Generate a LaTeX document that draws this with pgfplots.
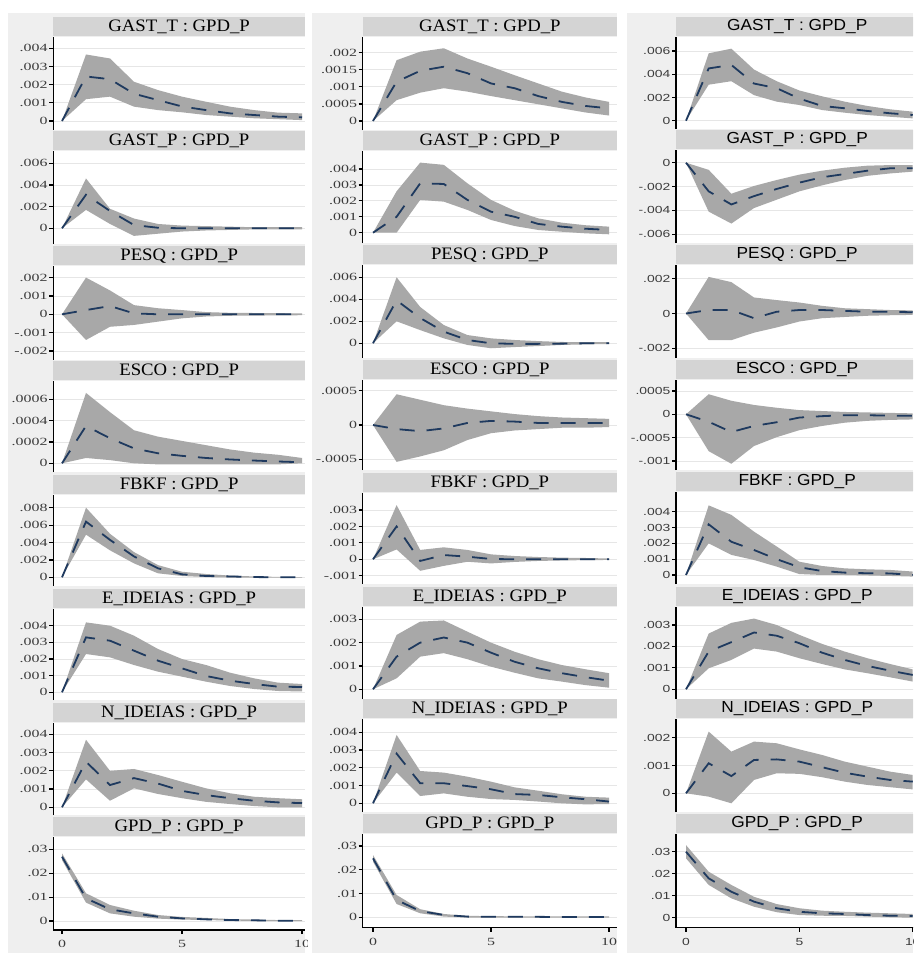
\documentclass[border=0pt]{standalone}
\usepackage{pgfplots}
\pgfplotsset{compat=1.18}
\usepackage{fontspec}
\setmainfont{Liberation Serif}
\newfontfamily\tickserif[FakeStretch=1.45]{Liberation Serif}
\newfontfamily\ticksans[FakeStretch=1.35]{Liberation Sans}
\newfontfamily\titleserif[FakeStretch=1.07]{Liberation Serif}
\newfontfamily\titlesans[FakeStretch=1.08]{Liberation Sans}
\definecolor{colbg}{HTML}{EFEFEF}
\definecolor{stripcol}{HTML}{D4D4D4}
\definecolor{bandcol}{HTML}{A8A8A8}
\definecolor{gridcol}{HTML}{E6E6E6}
\definecolor{irfcol}{HTML}{1F3A5F}
\definecolor{tickcol}{HTML}{3A3A3A}
\pgfplotsset{
 every axis title/.style={at={(0.5,1)}, anchor=south, yshift=0.5pt, fill=stripcol, inner sep=0pt, minimum height=19pt, text=black},
 panel/.style={scale only axis, anchor=north west, axis background/.style={fill=white},
  axis y line*=left, axis line style={-, line width=1.3pt, black},
  tick align=outside, major tick length=4pt, ytick style={line width=1.2pt, black},
  ymajorgrids, grid style={line width=0.8pt, gridcol}, no markers,
  yticklabel style={text=tickcol, inner sep=1.5pt}, xticklabel style={text=tickcol, yshift=-3pt}},
 nox/.style={axis x line=none, xtick=\empty},
 col1b/.style={panel, width=251.7pt, xmin=-0.3625, xmax=10.125,
  title style={minimum width=251.7pt, font=\titleserif\fontsize{17.5}{17.5}\selectfont},
  yticklabel style={font=\tickserif\fontsize{11}{11}\selectfont},
  xticklabel style={font=\tickserif\fontsize{11}{11}\selectfont}},
 col2b/.style={panel, width=254.3pt, xmin=-0.4364, xmax=10.339,
  title style={minimum width=254.3pt, font=\titleserif\fontsize{17.5}{17.5}\selectfont},
  yticklabel style={font=\tickserif\fontsize{11}{11}\selectfont},
  xticklabel style={font=\tickserif\fontsize{11}{11}\selectfont}},
 col3b/.style={panel, width=242.4pt, xmin=-0.441, xmax=10.25,
  title style={minimum width=242.4pt, font=\titlesans\fontsize{16}{16}\selectfont},
  yticklabel style={font=\ticksans\fontsize{10.3}{10.3}\selectfont},
  xticklabel style={font=\ticksans\fontsize{10.3}{10.3}\selectfont}},
 col1/.style={col1b, nox}, col2/.style={col2b, nox}, col3/.style={col3b, nox},
 bottom/.style={axis x line*=bottom, xtick={0,5,10}, xticklabels={0,5,10}, xtick style={line width=1.2pt, black}},
 band/.style={fill=bandcol, draw=none},
 irf/.style={color=irfcol, line width=1.8pt, dash pattern=on 15pt off 12pt},
}
\newcommand{\panel}[4]{\begin{axis}[#1, title={#2}]
\addplot[band] coordinates {#3};
\addplot[irf] coordinates {#4};
\end{axis}}
\begin{document}
\begin{tikzpicture}
\useasboundingbox (0,0) rectangle (913pt,-953pt);
\fill[white] (0,0) rectangle (913pt,-953pt);
\clip (0,0) rectangle (913pt,-953pt);
\fill[colbg] (8pt,-13pt) rectangle (305pt,-953pt);
\fill[colbg] (312pt,-13pt) rectangle (617pt,-953pt);
\fill[colbg] (627pt,-13pt) rectangle (913pt,-953pt);
% ---------------- column 1
\begin{scope}
\clip (0pt,0pt) rectangle (307pt,-953pt);
\panel{col1, at={(53.3pt,-37pt)}, height=93pt, ymin=-0.000495, ymax=0.004622, ytick={0,0.001,0.002,0.003,0.004}, yticklabels={0,.001,.002,.003,.004}}{GAST\_T : GPD\_P}
{(0,0)(1,.00366)(2,.00344)(3,.00216)(4,.0017)(5,.00134)(6,.00106)(7,.00079)(8,.0006)(9,.00046)(10,.00042)(10,.00005)(9,.0001)(8,.00015)(7,.00024)(6,.00033)(5,.00048)(4,.0006)(3,.00079)(2,.00134)(1,.0012)(0,0)}
{(0,0)(1,.00245)(2,.0023)(3,.0015)(4,.00115)(5,.0008)(6,.0006)(7,.00042)(8,.00033)(9,.00024)(10,.0002)}
\panel{col1, at={(53.3pt,-151pt)}, height=93pt, ymin=-0.001449, ymax=0.007135, ytick={0,0.002,0.004,0.006}, yticklabels={0,.002,.004,.006}}{GAST\_P : GPD\_P}
{(0,0)(1,.0046)(2,.0018)(3,.0009)(4,.0004)(5,.00025)(6,.0002)(7,.00015)(8,.0001)(9,.0001)(10,.0001)(10,-.0001)(9,-.0001)(8,-.0001)(7,-.00015)(6,-.0002)(5,-.0003)(4,-.0005)(3,-.0007)(2,.0004)(1,.0017)(0,0)}
{(0,0)(1,.0031)(2,.0016)(3,.0003)(4,.00005)(5,0)(6,0)(7,0)(8,0)(9,0)(10,0)}
\panel{col1, at={(53.3pt,-266pt)}, height=94pt, ymin=-0.002491, ymax=0.002632, ytick={-0.002,-0.001,0,0.001,0.002}, yticklabels={-.002,-.001,0,.001,.002}}{PESQ : GPD\_P}
{(0,0)(1,.002)(2,.0013)(3,.0005)(4,.00033)(5,.00023)(6,.00012)(7,.00008)(8,.00007)(9,.00006)(10,.00005)(10,-.00005)(9,-.00006)(8,-.00007)(7,-.00008)(6,-.00012)(5,-.00022)(4,-.0004)(3,-.00058)(2,-.00068)(1,-.0014)(0,0)}
{(0,0)(1,.00023)(2,.00045)(3,.00005)(4,0)(5,0)(6,0)(7,0)(8,0)(9,0)(10,0)}
\panel{col1, at={(53.3pt,-381pt)}, height=91pt, ymin=-0.0000816, ymax=0.000772, ytick={0,0.0002,0.0004,0.0006}, yticklabels={0,.0002,.0004,.0006}}{ESCO : GPD\_P}
{(0,0)(1,.00066)(2,.00048)(3,.00031)(4,.00025)(5,.00021)(6,.00017)(7,.00013)(8,.0001)(9,.00008)(10,.00005)(10,0)(9,-.00001)(8,-.00001)(7,-.00001)(6,-.00001)(5,-.00001)(4,-.00001)(3,0)(2,.00003)(1,.00005)(0,0)}
{(0,0)(1,.00035)(2,.000235)(3,.00014)(4,.000094)(5,.00007)(6,.00005)(7,.000036)(8,.000026)(9,.000017)(10,.00001)}
\panel{col1, at={(53.3pt,-495pt)}, height=91pt, ymin=-0.001, ymax=0.009459, ytick={0,0.002,0.004,0.006,0.008}, yticklabels={0,.002,.004,.006,.008}}{FBKF : GPD\_P}
{(0,0)(1,.008)(2,.005)(3,.0029)(4,.0014)(5,.00064)(6,.00038)(7,.0002)(8,.0001)(9,.00005)(10,.00003)(10,-.00003)(9,-.00003)(8,-.00003)(7,-.00003)(6,.00003)(5,.00015)(4,.00046)(3,.0016)(2,.0031)(1,.0049)(0,0)}
{(0,0)(1,.0064)(2,.0043)(3,.0024)(4,.00103)(5,.00034)(6,.00015)(7,.0001)(8,.00003)(9,0)(10,0)}
\panel{col1, at={(53.3pt,-609pt)}, height=91pt, ymin=-0.000462, ymax=0.005003, ytick={0,0.001,0.002,0.003,0.004}, yticklabels={0,.001,.002,.003,.004}}{E\_IDEIAS : GPD\_P}
{(0,0)(1,.0042)(2,.004)(3,.0034)(4,.0026)(5,.002)(6,.00164)(7,.00118)(8,.00084)(9,.00058)(10,.0005)(10,.00005)(9,.00008)(8,.0002)(7,.00038)(6,.00064)(5,.00094)(4,.00124)(3,.00164)(2,.0021)(1,.0023)(0,0)}
{(0,0)(1,.0033)(2,.0031)(3,.0025)(4,.0019)(5,.00144)(6,.00098)(7,.0007)(8,.0005)(9,.00034)(10,.00032)}
\panel{col1, at={(53.3pt,-723pt)}, height=92pt, ymin=-0.000422, ymax=0.004619, ytick={0,0.001,0.002,0.003,0.004}, yticklabels={0,.001,.002,.003,.004}}{N\_IDEIAS : GPD\_P}
{(0,0)(1,.0037)(2,.002)(3,.0021)(4,.00177)(5,.0014)(6,.00104)(7,.00077)(8,.00058)(9,.0005)(10,.00044)(10,0)(9,0)(8,.00007)(7,.00018)(6,.0003)(5,.0005)(4,.00073)(3,.00104)(2,.00036)(1,.00153)(0,0)}
{(0,0)(1,.0025)(2,.00122)(3,.0016)(4,.0013)(5,.0009)(6,.00067)(7,.0005)(8,.00036)(9,.00027)(10,.00023)}
\panel{col1b, bottom, at={(53.3pt,-837pt)}, height=93pt, ymin=-0.003766, ymax=0.035146, ytick={0,0.01,0.02,0.03}, yticklabels={0,.01,.02,.03}}{GPD\_P : GPD\_P}
{(0,.0283)(1,.0116)(2,.0067)(3,.0043)(4,.0025)(5,.0017)(6,.0013)(7,.0008)(8,.0006)(9,.0004)(10,.0004)(10,-.0001)(9,-.0001)(8,0)(7,.0002)(6,.0004)(5,.0006)(4,.001)(3,.0018)(2,.0032)(1,.0077)(0,.0255)}
{(0,.0269)(1,.0095)(2,.0049)(3,.0032)(4,.0018)(5,.0011)(6,.0007)(7,.0004)(8,.0003)(9,.0001)(10,.0001)}
\end{scope}
% ---------------- column 2
\begin{scope}
\clip (308pt,0pt) rectangle (622pt,-953pt);
\panel{col2, at={(362.7pt,-37pt)}, height=93pt, ymin=-0.000264, ymax=0.00246, ytick={0,0.0005,0.001,0.0015,0.002}, yticklabels={0,.0005,.001,.0015,.002}}{GAST\_T : GPD\_P}
{(0,0)(1,.00178)(2,.00203)(3,.00213)(4,.00183)(5,.00159)(6,.00134)(7,.0011)(8,.00086)(9,.00069)(10,.00056)(10,.00016)(9,.00025)(8,.00037)(7,.00049)(6,.00061)(5,.00073)(4,.00086)(3,.00096)(2,.00083)(1,.00061)(0,0)}
{(0,0)(1,.00115)(2,.00147)(3,.00159)(4,.0014)(5,.0011)(6,.00096)(7,.00073)(8,.00056)(9,.00044)(10,.00037)}
\panel{col2, at={(362.7pt,-151pt)}, height=92pt, ymin=-0.000647, ymax=0.00513, ytick={0,0.001,0.002,0.003,0.004}, yticklabels={0,.001,.002,.003,.004}}{GAST\_P : GPD\_P}
{(0,0)(1,.0026)(2,.0044)(3,.00426)(4,.0031)(5,.00206)(6,.00138)(7,.0009)(8,.00063)(9,.00047)(10,.00038)(10,-.0001)(9,-.00004)(8,.00006)(7,.00017)(6,.00042)(5,.0008)(4,.00143)(3,.00195)(2,.00206)(1,0)(0,0)}
{(0,0)(1,.001)(2,.0031)(3,.00306)(4,.00206)(5,.00132)(6,.001)(7,.00055)(8,.00038)(9,.00025)(10,.00017)}
\panel{col2, at={(362.7pt,-265pt)}, height=93pt, ymin=-0.001336, ymax=0.007118, ytick={0,0.002,0.004,0.006}, yticklabels={0,.002,.004,.006}}{PESQ : GPD\_P}
{(0,0)(1,.006)(2,.0033)(3,.00166)(4,.00075)(5,.00045)(6,.0003)(7,.0002)(8,.00012)(9,.0001)(10,.0001)(10,-.00006)(9,-.0001)(8,-.00015)(7,-.00025)(6,-.00034)(5,-.00045)(4,-.00015)(3,.00045)(2,.0012)(1,.002)(0,0)}
{(0,0)(1,.0039)(2,.0023)(3,.00106)(4,.0003)(5,0)(6,-.00005)(7,-.00005)(8,-.00003)(9,0)(10,0)}
\panel{col2, at={(362.7pt,-380pt)}, height=90pt, ymin=-0.000659, ymax=0.000659, ytick={-0.0005,0,0.0005}, yticklabels={-.0005,0,.0005}}{ESCO : GPD\_P}
{(0,0)(1,.00045)(2,.00037)(3,.00029)(4,.00024)(5,.0002)(6,.00016)(7,.00013)(8,.00011)(9,.0001)(10,.00009)(10,-.00003)(9,-.00004)(8,-.00004)(7,-.00006)(6,-.00008)(5,-.00012)(4,-.00022)(3,-.00037)(2,-.00046)(1,-.00054)(0,0)}
{(0,0)(1,-.00006)(2,-.00009)(3,-.00005)(4,.00003)(5,.00006)(6,.00005)(7,.00003)(8,.00003)(9,.00003)(10,.00003)}
\panel{col2, at={(362.7pt,-493pt)}, height=91pt, ymin=-0.001504, ymax=0.004036, ytick={-0.001,0,0.001,0.002,0.003}, yticklabels={-.001,0,.001,.002,.003}}{FBKF : GPD\_P}
{(0,0)(1,.0033)(2,.00057)(3,.00073)(4,.00057)(5,.0003)(6,.0002)(7,.00014)(8,.0001)(9,.00008)(10,.00005)(10,-.00004)(9,-.00005)(8,-.00007)(7,-.0001)(6,-.00016)(5,-.00025)(4,-.00015)(3,-.0004)(2,-.0007)(1,.0006)(0,0)}
{(0,0)(1,.002)(2,-.0001)(3,.00026)(4,.00016)(5,.00002)(6,0)(7,0)(8,0)(9,0)(10,0)}
\panel{col2, at={(362.7pt,-607pt)}, height=92pt, ymin=-0.000416, ymax=0.003527, ytick={0,0.001,0.002,0.003}, yticklabels={0,.001,.002,.003}}{E\_IDEIAS : GPD\_P}
{(0,0)(1,.00233)(2,.0029)(3,.00295)(4,.00247)(5,.002)(6,.00161)(7,.00129)(8,.00104)(9,.00086)(10,.00069)(10,.00007)(9,.00018)(8,.00033)(7,.00047)(6,.00071)(5,.00097)(4,.00129)(3,.00155)(2,.0014)(1,.00047)(0,0)}
{(0,0)(1,.0014)(2,.002)(3,.00222)(4,.002)(5,.00157)(6,.00118)(7,.0009)(8,.00069)(9,.00052)(10,.00037)}
\panel{col2, at={(362.7pt,-719pt)}, height=93pt, ymin=-0.00049, ymax=0.00475, ytick={0,0.001,0.002,0.003,0.004}, yticklabels={0,.001,.002,.003,.004}}{N\_IDEIAS : GPD\_P}
{(0,0)(1,.00385)(2,.00182)(3,.00173)(4,.0015)(5,.00122)(6,.0009)(7,.00071)(8,.00051)(9,.00037)(10,.00032)(10,-.00004)(9,-.00006)(8,0)(7,.0001)(6,.00019)(5,.00024)(4,.00037)(3,.00056)(2,.00041)(1,.00173)(0,0)}
{(0,0)(1,.0028)(2,.00113)(3,.00113)(4,.00097)(5,.00079)(6,.00052)(7,.00047)(8,.00034)(9,.00023)(10,.0001)}
\panel{col2b, bottom, at={(362.7pt,-834pt)}, height=93.7pt, ymin=-0.004376, ymax=0.03505, ytick={0,0.01,0.02,0.03}, yticklabels={0,.01,.02,.03}}{GPD\_P : GPD\_P}
{(0,.0262)(1,.0094)(2,.0034)(3,.0014)(4,.0006)(5,.0005)(6,.0004)(7,.0004)(8,.0004)(9,.0004)(10,.0004)(10,-.0001)(9,-.0001)(8,-.0001)(7,-.0001)(6,-.0001)(5,-.0001)(4,-.0001)(3,.0003)(2,.0017)(1,.0056)(0,.0234)}
{(0,.0248)(1,.0073)(2,.0026)(3,.001)(4,.0003)(5,.0002)(6,.0002)(7,.0002)(8,.0001)(9,.0001)(10,.0001)}
\end{scope}
% ---------------- column 3
\panel{col3, at={(676pt,-37pt)}, height=91.5pt, ymin=-0.000671, ymax=0.007205, ytick={0,0.002,0.004,0.006}, yticklabels={0,.002,.004,.006}}{GAST\_T : GPD\_P}
{(0,0)(1,.0058)(2,.0062)(3,.0044)(4,.0034)(5,.0026)(6,.0021)(7,.00164)(8,.00127)(9,.00098)(10,.00078)(10,.0002)(9,.00034)(8,.00049)(7,.00069)(6,.00092)(5,.00135)(4,.00164)(3,.0022)(2,.0034)(1,.0031)(0,0)}
{(0,0)(1,.0045)(2,.0048)(3,.0032)(4,.0028)(5,.0019)(6,.00127)(7,.00107)(8,.00084)(9,.00064)(10,.00049)}
\panel{col3, at={(676pt,-150pt)}, height=93pt, ymin=-0.006729, ymax=0.001064, ytick={-0.006,-0.004,-0.002,0}, yticklabels={-.006,-.004,-.002,0}}{GAST\_P : GPD\_P}
{(0,0)(1,-.0006)(2,-.0026)(3,-.00195)(4,-.00145)(5,-.001)(6,-.00067)(7,-.00042)(8,-.00025)(9,-.0002)(10,-.0002)(10,-.00075)(9,-.0009)(8,-.0011)(7,-.00145)(6,-.0019)(5,-.0024)(4,-.0031)(3,-.0038)(2,-.0051)(1,-.0041)(0,0)}
{(0,0)(1,-.0024)(2,-.0035)(3,-.0028)(4,-.0022)(5,-.00167)(6,-.00122)(7,-.00095)(8,-.00067)(9,-.00047)(10,-.00047)}
\panel{col3, at={(676pt,-265pt)}, height=93pt, ymin=-0.002554, ymax=0.002783, ytick={-0.002,0,0.002}, yticklabels={-.002,0,.002}}{PESQ : GPD\_P}
{(0,0)(1,.0021)(2,.0018)(3,.00092)(4,.00077)(5,.00063)(6,.00044)(7,.0003)(8,.00025)(9,.0002)(10,.00018)(10,-.00008)(9,-.0001)(8,-.00013)(7,-.0002)(6,-.00027)(5,-.00046)(4,-.0008)(3,-.0011)(2,-.00153)(1,-.00153)(0,0)}
{(0,0)(1,.0002)(2,.0002)(3,-.00027)(4,.0001)(5,.0002)(6,.0002)(7,.00015)(8,.0001)(9,.0001)(10,.00007)}
\panel{col3, at={(676pt,-380pt)}, height=90pt, ymin=-0.001194, ymax=0.000735, ytick={-0.001,-0.0005,0,0.0005}, yticklabels={-.001,-.0005,0,.0005}}{ESCO : GPD\_P}
{(0,0)(1,.00043)(2,.00029)(3,.0002)(4,.00014)(5,.00009)(6,.00007)(7,.00005)(8,.00004)(9,.00003)(10,.00002)(10,-.00011)(9,-.00012)(8,-.00014)(7,-.00018)(6,-.00025)(5,-.00034)(4,-.00049)(3,-.00068)(2,-.00106)(1,-.00079)(0,0)}
{(0,0)(1,-.00016)(2,-.00038)(3,-.00025)(4,-.00017)(5,-.00007)(6,-.00004)(7,-.00002)(8,-.00002)(9,-.00003)(10,-.00003)}
\panel{col3, at={(676pt,-492pt)}, height=92pt, ymin=-0.000569, ymax=0.005245, ytick={0,0.001,0.002,0.003,0.004}, yticklabels={0,.001,.002,.003,.004}}{FBKF : GPD\_P}
{(0,0)(1,.0044)(2,.0038)(3,.00274)(4,.0018)(5,.00084)(6,.00057)(7,.00042)(8,.00036)(9,.00032)(10,.00022)(10,-.0001)(9,-.00006)(8,-.00003)(7,0)(6,0)(5,.00006)(4,.00053)(3,.00095)(2,.00127)(1,.002)(0,0)}
{(0,0)(1,.0032)(2,.0021)(3,.00158)(4,.001)(5,.00049)(6,.00025)(7,.00015)(8,.00011)(9,.0001)(10,0)}
\panel{col3, at={(676pt,-607pt)}, height=92pt, ymin=-0.000453, ymax=0.00384, ytick={0,0.001,0.002,0.003}, yticklabels={0,.001,.002,.003}}{E\_IDEIAS : GPD\_P}
{(0,0)(1,.0026)(2,.0031)(3,.0033)(4,.003)(5,.00254)(6,.00212)(7,.00176)(8,.00145)(9,.00118)(10,.00093)(10,.00036)(9,.00056)(8,.00075)(7,.00093)(6,.00118)(5,.00145)(4,.00176)(3,.0019)(2,.00137)(1,.00098)(0,0)}
{(0,0)(1,.00176)(2,.0022)(3,.00265)(4,.0025)(5,.00215)(6,.00171)(7,.00137)(8,.00109)(9,.00087)(10,.00067)}
\panel{col3, at={(676pt,-719pt)}, height=93pt, ymin=-0.000673, ymax=0.002673, ytick={0,0.001,0.002}, yticklabels={0,.001,.002}}{N\_IDEIAS : GPD\_P}
{(0,0)(1,.00222)(2,.0015)(3,.00186)(4,.0018)(5,.00158)(6,.00138)(7,.00114)(8,.00096)(9,.00078)(10,.00066)(10,.00014)(9,.00022)(8,.0003)(7,.00042)(6,.00058)(5,.0007)(4,.00072)(3,.00048)(2,-.00036)(1,-.00012)(0,0)}
{(0,0)(1,.00108)(2,.00062)(3,.0012)(4,.00122)(5,.00114)(6,.00094)(7,.00074)(8,.0006)(9,.00048)(10,.00042)}
\panel{col3b, bottom, at={(676pt,-834pt)}, height=93.7pt, ymin=-0.004545, ymax=0.038045, ytick={0,0.01,0.02,0.03}, yticklabels={0,.01,.02,.03}}{GPD\_P : GPD\_P}
{(0,.033)(1,.0209)(2,.0149)(3,.0095)(4,.0062)(5,.0043)(6,.0032)(7,.0027)(8,.0023)(9,.002)(10,.0017)(10,0)(9,.0002)(8,.0005)(7,.0008)(6,.0009)(5,.0012)(4,.0025)(3,.005)(2,.0088)(1,.0149)(0,.027)}
{(0,.03)(1,.0179)(2,.0118)(3,.0073)(4,.0043)(5,.0027)(6,.002)(7,.0017)(8,.0012)(9,.0009)(10,.0008)}
\end{tikzpicture}
\end{document}
